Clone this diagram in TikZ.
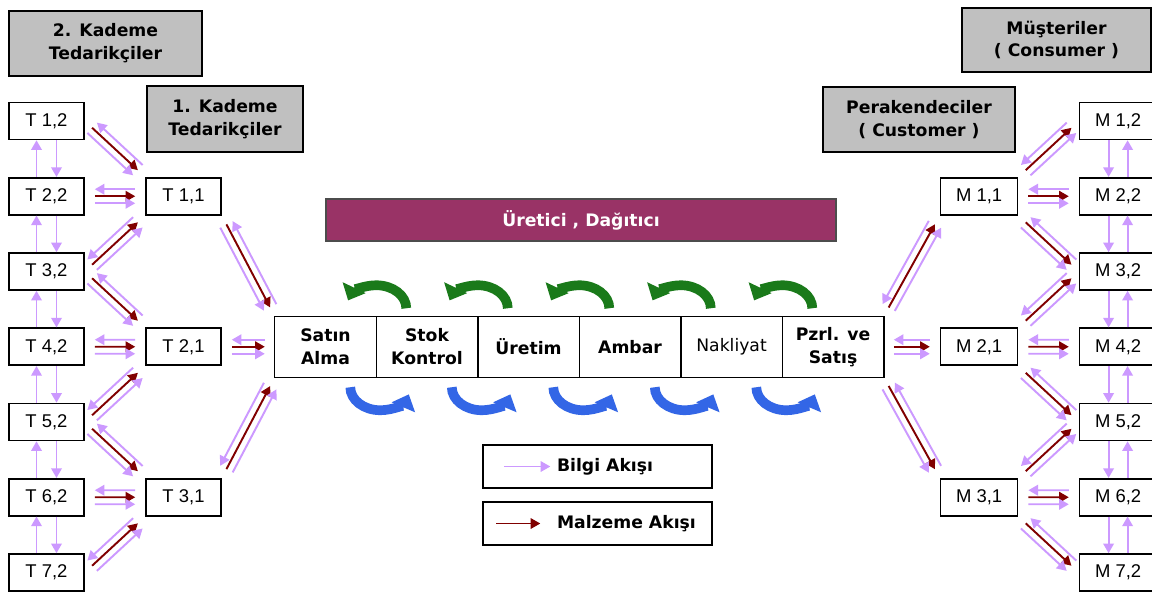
\documentclass[tikz,border=0pt]{standalone}
\usepackage{fontspec}
\setmainfont{DejaVu Sans}
\newfontfamily\kutuyazi{Liberation Sans}
\usetikzlibrary{arrows.meta,positioning,calc}

\definecolor{baslikgri}{HTML}{C0C0C0}
\definecolor{uretici}{HTML}{993366}
\definecolor{bilgirenk}{HTML}{CC99FF}
\definecolor{malzemerenk}{HTML}{800000}
\definecolor{yesilok}{HTML}{1A7A1A}
\definecolor{maviok}{HTML}{3366E6}

\newcommand{\akis}[2]{%
  \draw[bilgi,kisalt,<-] ($(#1)!4pt!90:(#2)$) -- ($(#2)!4pt!-90:(#1)$);
  \draw[malzeme,kisalt,->] (#1) -- (#2);
  \draw[bilgi,kisalt,->] ($(#1)!4pt!-90:(#2)$) -- ($(#2)!4pt!90:(#1)$);
}

\begin{document}
\begin{tikzpicture}[node distance=1.505cm,
    baslik/.style={draw,fill=baslikgri,line width=0.9pt,align=center,inner sep=1pt,
      font=\bfseries\fontsize{9.8}{13}\selectfont},
    kutu/.style={draw,fill=white,line width=0.9pt,minimum width=1.5cm,minimum height=0.74cm,
      inner sep=0pt,font=\kutuyazi\fontsize{10.5}{12}\selectfont},
    hucre/.style={draw,line width=0.8pt,minimum width=2.03cm,minimum height=1.22cm,align=center,
      inner sep=0pt,outer sep=0pt,font=\bfseries\fontsize{9.8}{13}\selectfont},
    lejant/.style={draw,line width=0.8pt,minimum height=0.86cm,inner xsep=0pt,
      font=\bfseries\fontsize{9.8}{12}\selectfont},
    bilgi/.style={draw=bilgirenk,line width=1.1pt,>={Triangle[length=5.5pt,width=6pt]}},
    malzeme/.style={draw=malzemerenk,line width=1.1pt,>={Triangle[length=5.5pt,width=6pt]}},
    kisalt/.style={shorten <=0.2cm,shorten >=0.2cm},
    yesilkavis/.style={draw=yesilok,line width=5.5pt,-{Triangle[width=14pt,length=8pt]}},
    mavikavis/.style={draw=maviok,line width=5.5pt,-{Triangle[width=14pt,length=8pt]}}]

    \useasboundingbox[fill=white] (0,0) rectangle (23.04,-11.9);

    \node[baslik,minimum width=3.86cm,minimum height=1.30cm] (kademe2) at (2.11,-0.87) {2. Kademe\\Tedarikçiler};
    \node[baslik,minimum width=3.12cm,minimum height=1.32cm] (kademe1) at (4.5,-2.38) {1. Kademe\\Tedarikçiler};
    \node[baslik,minimum width=3.84cm,minimum height=1.30cm] (perakende) at (18.38,-2.39) {Perakendeciler\\( Customer )};
    \node[baslik,minimum width=3.78cm,minimum height=1.28cm] (musteri) at (21.13,-0.80) {Müşteriler\\( Consumer )};

    \node[kutu] (T12) at (0.93,-2.42) {T 1,2};
    \node[kutu] (T22) [below of=T12] {T 2,2};
    \node[kutu] (T32) [below of=T22] {T 3,2};
    \node[kutu] (T42) [below of=T32] {T 4,2};
    \node[kutu] (T52) [below of=T42] {T 5,2};
    \node[kutu] (T62) [below of=T52] {T 6,2};
    \node[kutu] (T72) [below of=T62] {T 7,2};

    \node[kutu] (T11) [right of=T22,node distance=2.74cm] {T 1,1};
    \node[kutu] (T21) [below of=T11,node distance=3.01cm] {T 2,1};
    \node[kutu] (T31) [below of=T21,node distance=3.01cm] {T 3,1};

    \node[hucre] (satin)    [right=1.06cm of T21] {Satın\\Alma};
    \node[hucre] (stok)     [right=0pt of satin]  {Stok\\Kontrol};
    \node[hucre] (uretim)   [right=0pt of stok]   {Üretim};
    \node[hucre] (ambar)    [right=0pt of uretim] {Ambar};
    \node[hucre] (nakliyat) [right=0pt of ambar]  {\mdseries Nakliyat};
    \node[hucre] (pazar)    [right=0pt of nakliyat] {Pzrl. ve\\Satış};

    \node[draw=black!70,line width=0.8pt,fill=uretici,text=white,minimum width=10.2cm,minimum height=0.84cm,
      font=\bfseries\fontsize{9.8}{12}\selectfont] (uretici) at (11.62,-4.40) {Üretici , Dağıtıcı};

    \node[kutu,minimum width=1.54cm] (M21) [right=1.12cm of pazar] {M 2,1};
    \node[kutu,minimum width=1.54cm] (M11) [above of=M21,node distance=3.01cm] {M 1,1};
    \node[kutu,minimum width=1.54cm] (M31) [below of=M21,node distance=3.01cm] {M 3,1};

    \node[kutu,minimum width=1.54cm] (M22) [right of=M11,node distance=2.78cm] {M 2,2};
    \node[kutu,minimum width=1.54cm] (M12) [above of=M22] {M 1,2};
    \node[kutu,minimum width=1.54cm] (M32) [below of=M22] {M 3,2};
    \node[kutu,minimum width=1.54cm] (M42) [below of=M32] {M 4,2};
    \node[kutu,minimum width=1.54cm] (M52) [below of=M42] {M 5,2};
    \node[kutu,minimum width=1.54cm] (M62) [below of=M52] {M 6,2};
    \node[kutu,minimum width=1.54cm] (M72) [below of=M62] {M 7,2};

    \node[lejant] (bilgiacik) at (11.95,-9.33) {\makebox[4.58cm][l]{\hspace{1.48cm}Bilgi Akışı}};
    \node[lejant] (malzemeacik) at (11.95,-10.47) {\makebox[4.58cm][l]{\hspace{1.48cm}Malzeme Akışı}};
    \draw[bilgi,->,line width=0.9pt] ([xshift=0.44cm]bilgiacik.west) -- ([xshift=1.36cm]bilgiacik.west);
    \draw[malzeme,->,line width=0.9pt] ([xshift=0.28cm]malzemeacik.west) -- ([xshift=1.16cm]malzemeacik.west);

    \foreach \a/\b in {1/2,2/3,3/4,4/5,5/6,6/7} {
      \draw[bilgi,->] ([xshift=-0.2cm]T\b2.north) -- ([xshift=-0.2cm]T\a2.south);
      \draw[bilgi,->] ([xshift=0.2cm]T\a2.south) -- ([xshift=0.2cm]T\b2.north);
      \draw[bilgi,->] ([xshift=-0.19cm]M\a2.south) -- ([xshift=-0.19cm]M\b2.north);
      \draw[bilgi,->] ([xshift=0.19cm]M\b2.north) -- ([xshift=0.19cm]M\a2.south);
    }

    \foreach \a/\b in {T12.east/T11.north west, T22.east/T11.west, T32.east/T11.south west,
                       T32.east/T21.north west, T42.east/T21.west, T52.east/T21.south west,
                       T52.east/T31.north west, T62.east/T31.west, T72.east/T31.south west,
                       T11.south east/satin.north west, T21.east/satin.west, T31.north east/satin.south west,
                       pazar.north east/M11.south west, pazar.east/M21.west, pazar.south east/M31.north west,
                       M11.north east/M12.west, M11.east/M22.west, M11.south east/M32.west,
                       M21.north east/M32.west, M21.east/M42.west, M21.south east/M52.west,
                       M31.north east/M52.west, M31.east/M62.west, M31.south east/M72.west}
      \akis{\a}{\b};

    \foreach \a in {satin,stok,uretim,ambar,nakliyat} {
      \draw[yesilkavis] ([xshift=0.6cm,yshift=0.16cm]\a.north east) arc[start angle=0,end angle=160,x radius=0.6cm,y radius=0.46cm];
      \draw[mavikavis] ([xshift=-0.52cm,yshift=-0.2cm]\a.south east) arc[start angle=180,end angle=342,x radius=0.6cm,y radius=0.46cm];
    }
\end{tikzpicture}
\end{document}
